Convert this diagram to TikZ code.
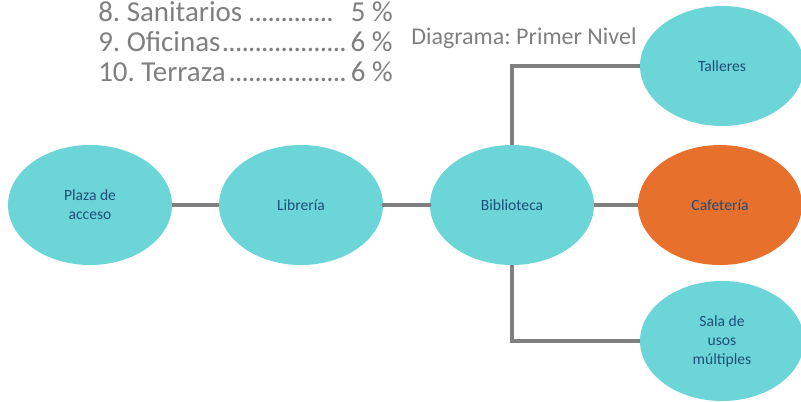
\documentclass[tikz,border=0pt]{standalone}
\usepackage{fontspec}
\setmainfont{Carlito}
\usetikzlibrary{shapes.geometric}
\definecolor{turquesa}{HTML}{6BD5D8}
\definecolor{naranja}{HTML}{E8702D}
\definecolor{azul}{HTML}{1F4E79}
\definecolor{gris}{HTML}{7F7F7F}
\newcommand\puntos{\leaders\hbox to 4.9pt{\hss.\hss}\hfill}
\frenchspacing
\begin{document}
\begin{tikzpicture}[x=.75pt,y=-.75pt,
  zona/.style={ellipse, fill=turquesa, minimum width=123pt, minimum height=90pt,
    inner sep=0pt, align=center, text=azul, font=\fontsize{11.7}{14.2}\selectfont},
  enlace/.style={draw=gris, line width=2.5pt},
  lista/.style={anchor=base west, inner sep=0pt, text=gris, font=\fontsize{21.7}{24}\selectfont},
  titulo/.style={anchor=base west, inner sep=0pt, text=gris, font=\fontsize{18}{21}\selectfont}]
\useasboundingbox (0,0) rectangle (801,401);

% porcentajes
\node[lista] (san) at (98,21) {\makebox[221pt][l]{8. Sanitarios\puntos\ \ 5 \%}};
\node[lista] (ofi) at (98,51) {\makebox[221pt][l]{9. Oficinas\puntos 6 \%}};
\node[lista] (ter) at (98,81) {\makebox[221pt][l]{10. Terraza\puntos 6 \%}};

\node[titulo] (nivel) at (411,44) {Diagrama: Primer Nivel};

% zonas
\node[zona] (plaza) at (90,205) {Plaza de\\acceso};
\node[zona] (libreria) at (301,205) {Librería};
\node[zona] (biblio) at (512,205) {Biblioteca};
\node[zona, fill=naranja] (cafe) at (720,205) {Cafetería};
\node[zona] (talleres) at (722,66) {Talleres};
\node[zona] (sala) at (722,341) {Sala de\\usos\\múltiples};

\draw[enlace] (plaza) -- (libreria);
\draw[enlace, line cap=round] (biblio) -- (libreria);
\draw[enlace] (biblio) -- (cafe);
\draw[enlace] (biblio.north) |- (talleres.west);
\draw[enlace] (biblio.south) |- (sala.west);
\end{tikzpicture}
\end{document}
